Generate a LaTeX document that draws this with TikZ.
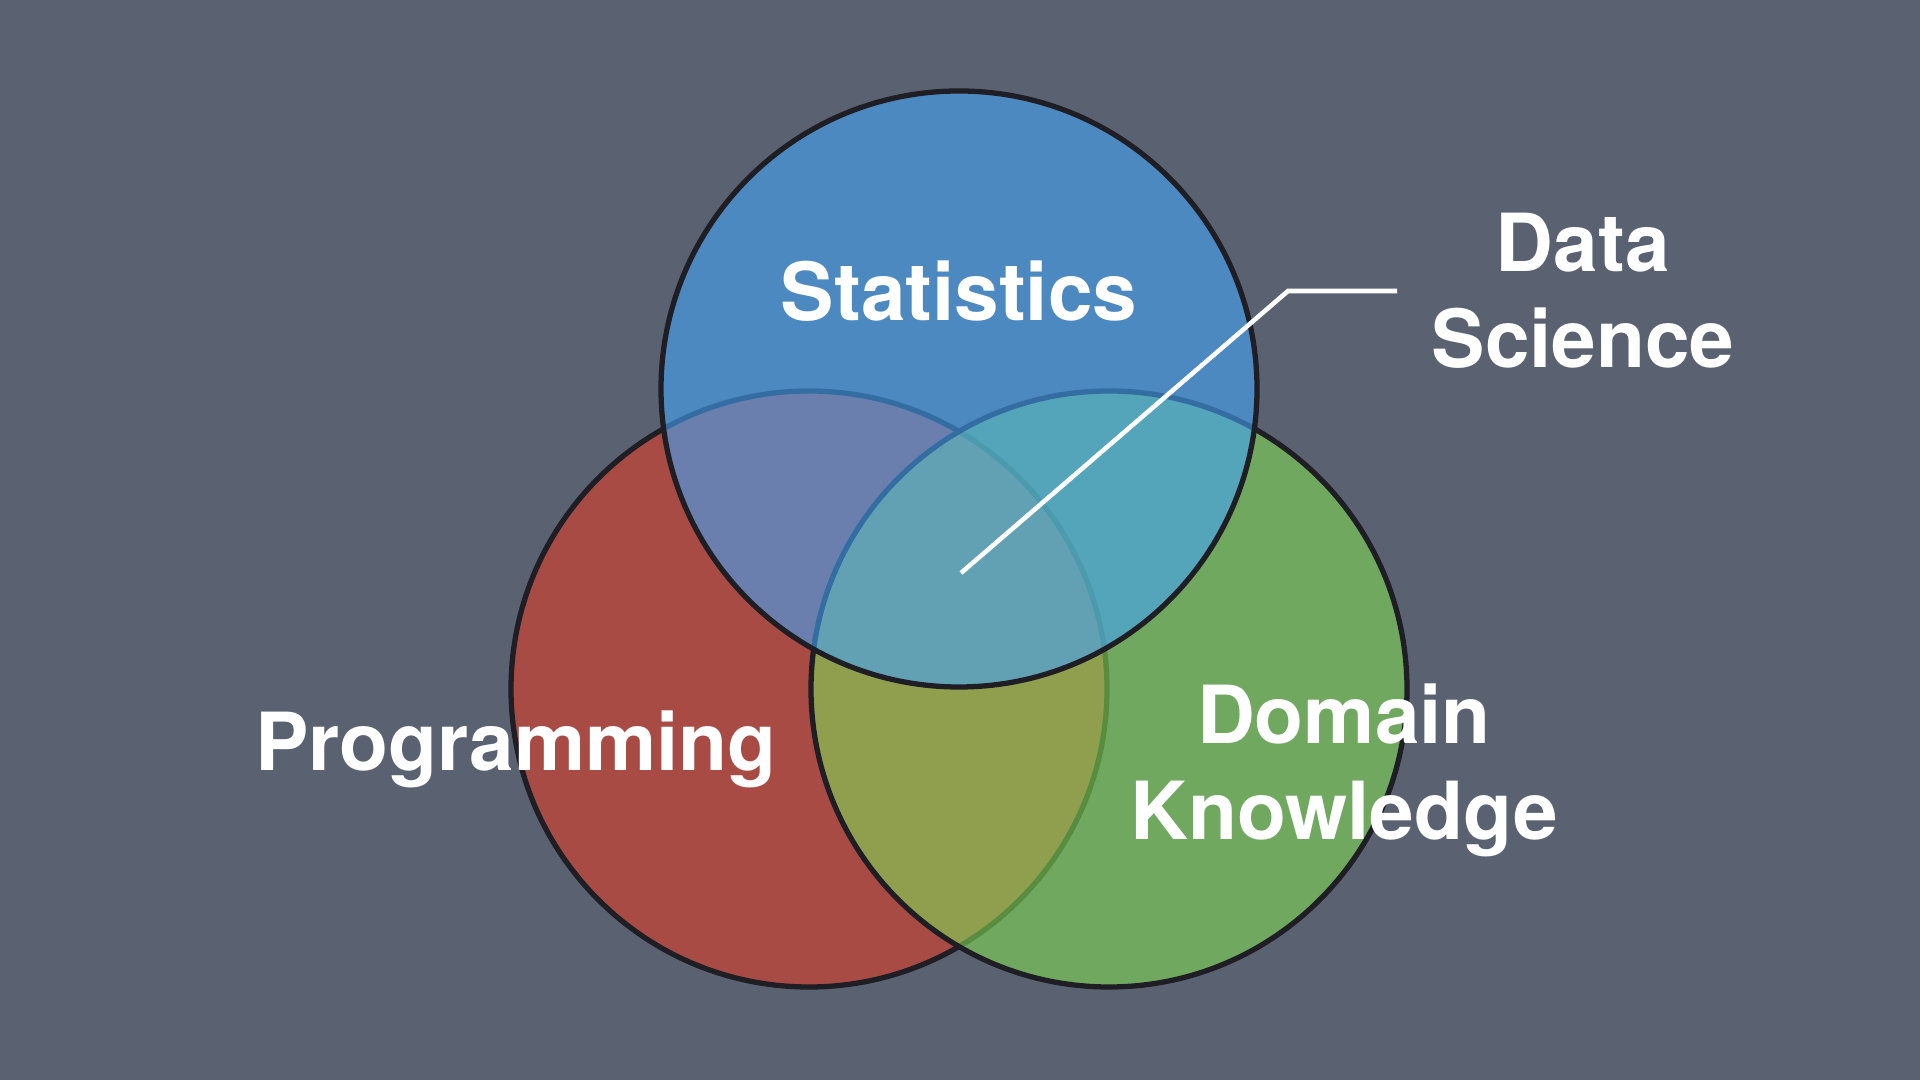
\documentclass[tikz,border=0pt]{standalone}
\usepackage{fontspec}
\setmainfont{TeX Gyre Heros}
\usetikzlibrary{positioning}

\definecolor{slate}{RGB}{90,98,114}
\definecolor{rim}{RGB}{30,30,36}
\definecolor{progred}{RGB}{220,60,39}
\definecolor{domgreen}{RGB}{127,215,84}
\definecolor{statblue}{RGB}{67,163,247}

\begin{document}
\begin{tikzpicture}[
  venn/.style={draw=rim, line width=1.5pt, fill opacity=0.6},
  lbl/.style={text=white, inner sep=0pt, font=\fontsize{22.8}{27.3}\selectfont\bfseries, align=center}]

\fill[slate] (0,0) rectangle (19.2,10.8);
\useasboundingbox (0,0) rectangle (19.2,10.8);

\draw[venn, fill=progred] (8.09,3.91) circle (2.98);
\draw[venn, fill=domgreen] (11.09,3.91) circle (2.98);
\draw[venn, fill=statblue] (9.59,6.91) circle (2.98);

\node[lbl, anchor=base] (stat) at (9.59,7.59) {Statistics};
\node[lbl, anchor=base] (prog) at (5.16,3.09) {Programming};
\node[lbl, anchor=north] (dom) at (13.44,3.97) {Domain\\Knowledge};
\node[lbl, anchor=north] (datasci) at (15.83,8.68) {Data\\Science};

\coordinate (core) at (9.61,5.07);
\coordinate (kink) at (12.88,7.89);
\coordinate (tail) at (13.97,7.89);
\draw[white, line width=1.3pt] (core) -- (kink) -- (tail);

\end{tikzpicture}
\end{document}
